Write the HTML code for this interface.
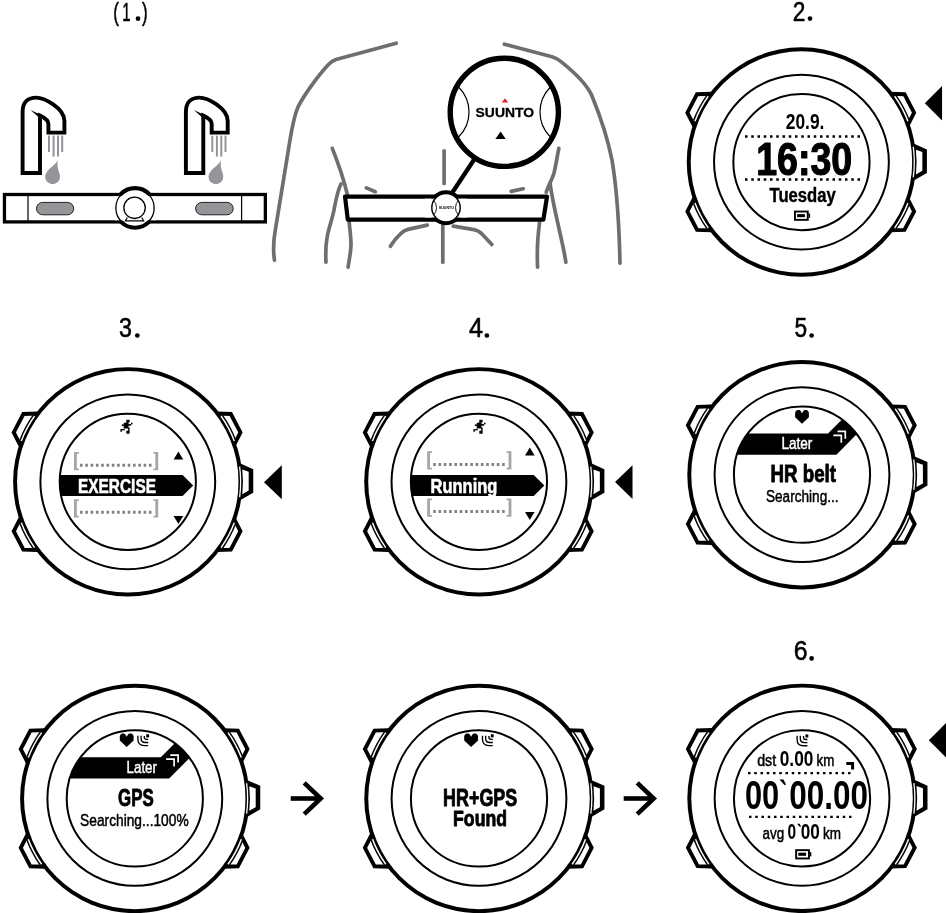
<!DOCTYPE html>
<html><head><meta charset="utf-8"><title>HR belt and GPS</title>
<style>html,body{margin:0;padding:0;background:#fff;overflow:hidden}svg{display:block;will-change:transform}text{font-family:"Liberation Sans",sans-serif}</style></head>
<body>
<svg width="946" height="913" viewBox="0 0 946 913">
<rect width="946" height="913" fill="#fff"/>
<defs>
<g id="case">
<g transform="translate(-0.7,0)">
<polygon points="-89.50,-68.30 -103.70,-67.85 -113.35,-49.40 -107.00,-37.00" fill="#fff" stroke="#000" stroke-width="3.9" stroke-linejoin="miter"/>
<polygon points="89.50,-68.30 103.70,-67.85 113.35,-49.40 107.00,-37.00" fill="#fff" stroke="#000" stroke-width="3.9" stroke-linejoin="miter"/>
<polygon points="-89.50,68.30 -103.70,67.85 -113.35,49.40 -107.00,37.00" fill="#fff" stroke="#000" stroke-width="3.9" stroke-linejoin="miter"/>
<polygon points="89.50,68.30 103.70,67.85 113.35,49.40 107.00,37.00" fill="#fff" stroke="#000" stroke-width="3.9" stroke-linejoin="miter"/>
</g>
<circle cx="0" cy="0" r="114.7" fill="#000"/>
<circle cx="0" cy="0" r="110.75" fill="#fff"/>
<path d="M106.52,-40.89 A114.1,114.1 0 0 0 93.24,-65.77" fill="none" stroke="#fff" stroke-width="1.5"/>
<path d="M107.92,-41.43 A115.6,115.6 0 0 0 94.46,-66.64" fill="none" stroke="#000" stroke-width="1.4"/>
<path d="M106.52,40.89 A114.1,114.1 0 0 1 93.24,65.77" fill="none" stroke="#fff" stroke-width="1.5"/>
<path d="M107.92,41.43 A115.6,115.6 0 0 1 94.46,66.64" fill="none" stroke="#000" stroke-width="1.4"/>
<path d="M-106.52,-40.89 A114.1,114.1 0 0 1 -93.24,-65.77" fill="none" stroke="#fff" stroke-width="1.5"/>
<path d="M-107.92,-41.43 A115.6,115.6 0 0 1 -94.46,-66.64" fill="none" stroke="#000" stroke-width="1.4"/>
<path d="M-106.52,40.89 A114.1,114.1 0 0 0 -93.24,65.77" fill="none" stroke="#fff" stroke-width="1.5"/>
<path d="M-107.92,41.43 A115.6,115.6 0 0 0 -94.46,66.64" fill="none" stroke="#000" stroke-width="1.4"/>
<polygon points="111,-19.0 125.45,-12.6 125.45,10.9 111,19.2" fill="#000"/>
<path d="M114.49,-12.3 L120.90,-10.0 L120.90,8.7 L114.49,12.35 A115.15,115.15 0 0 0 114.49,-12.3 Z" fill="#fff"/>
<path d="M111.82,-15.2 A112.85,112.85 0 0 1 111.82,15.2" fill="none" stroke="#fff" stroke-width="1.3"/>
<circle r="87.4" fill="none" stroke="#000" stroke-width="2"/>
<circle r="68.1" fill="#fff" stroke="#000" stroke-width="2"/>
</g>
<path id="heart" d="M0,2.8 L0.8,1.2 L2.2,0.2 L4.4,0.2 L5.6,1.2 L6.9,3.6 L8.2,1.2 L9.4,0.2 L11.6,0.2 L13,1.2 L13.8,2.8 L13.8,7.4 L6.9,13.9 L0,7.4 Z" fill="#000"/>
<g id="gps" fill="none" stroke="#000" stroke-width="1.35"><rect x="9" y="0" width="2.9" height="3.1" fill="#000" stroke="none"/><path d="M0.7,1.4 V5 Q0.7,11.3 7,11.3 H11"/><path d="M3.9,1.4 V4.2 Q3.9,8.2 8,8.2 H11"/><path d="M7.1,1.6 V3 Q7.1,5.1 9.2,5.1 H11"/></g>
<g id="batt"><rect x="0.95" y="0.95" width="12.8" height="8.3" fill="#fff" stroke="#000" stroke-width="1.9"/><rect x="3.1" y="3.5" width="7.8" height="3.1" fill="#000"/><rect x="14.6" y="2.9" width="1.5" height="4.3" fill="#000"/></g>
<g id="runner" fill="#000"><rect x="6.3" y="0" width="3.3" height="2.6"/><rect x="3.7" y="3.1" width="4.8" height="5.6"/><rect x="5.6" y="2.4" width="2.9" height="1.2"/><rect x="1.85" y="4.6" width="2" height="1.6"/><rect x="8.1" y="4.25" width="3" height="1.65"/><rect x="11" y="3" width="1.6" height="1.5"/><rect x="0.4" y="9.25" width="4.4" height="1.3"/><rect x="0.4" y="10.4" width="1.5" height="1.6"/><rect x="8.1" y="7.6" width="1.5" height="3.4"/><rect x="6.3" y="10.9" width="3.3" height="3"/></g>
</defs>
<text transform="translate(113.30,20.50) scale(0.6421,1)" font-size="26.5" font-weight="normal" fill="#000" stroke="#000" stroke-width="0.55" stroke-linejoin="round">(</text>
<text transform="translate(141.90,20.50) scale(0.6421,1)" font-size="26.5" font-weight="normal" fill="#000" stroke="#000" stroke-width="0.55" stroke-linejoin="round">)</text>
<text transform="translate(122.30,20.50) scale(0.5643,1)" font-size="26.5" font-weight="normal" fill="#000" stroke="#000" stroke-width="0.55" stroke-linejoin="round">1</text>
<circle cx="138.0" cy="18.7" r="2.35" fill="#000"/>
<text transform="translate(792.80,20.70) scale(0.8316,1)" font-size="27.3" font-weight="normal" fill="#000" stroke="#000" stroke-width="0.55" stroke-linejoin="round">2</text>
<circle cx="810.0" cy="18.6" r="2.35" fill="#000"/>
<text transform="translate(119.00,337.40) scale(0.8514,1)" font-size="27.3" font-weight="normal" fill="#000" stroke="#000" stroke-width="0.55" stroke-linejoin="round">3</text>
<circle cx="137.3" cy="335.5" r="2.35" fill="#000"/>
<text transform="translate(469.00,337.20) scale(0.9240,1)" font-size="27.3" font-weight="normal" fill="#000" stroke="#000" stroke-width="0.55" stroke-linejoin="round">4</text>
<circle cx="486.9" cy="335.5" r="2.35" fill="#000"/>
<text transform="translate(794.50,337.40) scale(0.8316,1)" font-size="27.3" font-weight="normal" fill="#000" stroke="#000" stroke-width="0.55" stroke-linejoin="round">5</text>
<circle cx="811.6" cy="335.5" r="2.35" fill="#000"/>
<text transform="translate(793.80,660.40) scale(0.9108,1)" font-size="27.3" font-weight="normal" fill="#000" stroke="#000" stroke-width="0.55" stroke-linejoin="round">6</text>
<circle cx="811.6" cy="658.4" r="2.35" fill="#000"/>
<g transform="translate(0,0)"><path d="M22.6,173 V112 C22.6,101 29,97.6 36,97.6 C44,97.6 64.4,108 64.4,121 V132.6 H48.4 V124 C48.4,121 44,117.5 40,115.6 V173 Z" fill="#fff" stroke="#000" stroke-width="3.9" stroke-linejoin="miter"/><path d="M30.6,110 L40.5,114.8 L39,117.6 Z" fill="#000"/><line x1="49" y1="135.6" x2="49" y2="152" stroke="#939598" stroke-width="2"/><line x1="53.6" y1="135.6" x2="53.6" y2="156.6" stroke="#939598" stroke-width="2"/><line x1="58" y1="135.6" x2="58" y2="156.6" stroke="#939598" stroke-width="2"/><line x1="62.2" y1="135.6" x2="62.2" y2="152" stroke="#939598" stroke-width="2"/><path d="M58,160 C55,166 45.2,170 45.2,176.8 A7.4,7.4 0 0 0 60,176.8 C60,172 56,168 58,160 Z" fill="#939598"/></g>
<g transform="translate(163.3,0)"><path d="M22.6,173 V112 C22.6,101 29,97.6 36,97.6 C44,97.6 64.4,108 64.4,121 V132.6 H48.4 V124 C48.4,121 44,117.5 40,115.6 V173 Z" fill="#fff" stroke="#000" stroke-width="3.9" stroke-linejoin="miter"/><path d="M30.6,110 L40.5,114.8 L39,117.6 Z" fill="#000"/><line x1="49" y1="135.6" x2="49" y2="152" stroke="#939598" stroke-width="2"/><line x1="53.6" y1="135.6" x2="53.6" y2="156.6" stroke="#939598" stroke-width="2"/><line x1="58" y1="135.6" x2="58" y2="156.6" stroke="#939598" stroke-width="2"/><line x1="62.2" y1="135.6" x2="62.2" y2="152" stroke="#939598" stroke-width="2"/><path d="M58,160 C55,166 45.2,170 45.2,176.8 A7.4,7.4 0 0 0 60,176.8 C60,172 56,168 58,160 Z" fill="#939598"/></g>
<rect x="4.45" y="194.5" width="260.9" height="27.4" fill="#fff" stroke="#000" stroke-width="3.3"/>
<line x1="28" y1="195" x2="28" y2="222" stroke="#000" stroke-width="1.2"/>
<line x1="241.6" y1="195" x2="241.6" y2="222" stroke="#000" stroke-width="1.2"/>
<rect x="36.5" y="202.4" width="37.2" height="12.4" rx="6.2" fill="#939598" stroke="#231f20" stroke-width="1"/>
<rect x="195.6" y="202.4" width="37.6" height="12.4" rx="6.2" fill="#939598" stroke="#231f20" stroke-width="1"/>
<circle cx="135" cy="207.9" r="19.8" fill="#fff" stroke="#000" stroke-width="4.1"/>
<clipPath id="cpm"><circle cx="135" cy="207.9" r="24"/></clipPath>
<rect x="110" y="196.1" width="50" height="24.2" fill="#fff" clip-path="url(#cpm)"/>
<circle cx="135" cy="207.9" r="19.15" fill="none" stroke="#000" stroke-width="1.3"/>
<path d="M127.3,217.6 L125.3,220.9 H143.7 L141.7,217.6" fill="#fff" stroke="#000" stroke-width="1.1"/>
<circle cx="134.55" cy="207.8" r="10.7" fill="#fff" stroke="#000" stroke-width="1.3"/>
<g fill="none" stroke="#6d6e71" stroke-width="3.7" stroke-linecap="round" stroke-linejoin="round">
<path d="M396.23,43.21 L336.00,59.50 Q331.50,61.00 328.00,65.00 C316.00,78.00 303.00,97.00 298.00,107.00 C294.00,116.00 292.00,128.00 290.00,140.00 L275.00,232.00 Q272.50,247.00 274.48,260.21"/>
<path d="M504.37,44.20 L552.00,56.80 Q557.00,58.40 561.00,61.60 C574.00,72.00 587.00,84.00 592.00,96.00 C601.00,118.00 608.00,140.00 612.00,160.00 C616.00,184.00 619.00,215.00 619.98,263.20"/>
<path d="M332.30,148.34 C337.00,160.00 343.00,176.00 347.81,196.22"/>
<path d="M349.09,221.80 C350.00,230.00 351.00,238.00 351.00,244.00 C351.00,252.00 349.00,260.00 348.10,267.21"/>
<path d="M341.00,184.00 C337.00,192.00 336.00,200.00 334.00,210.00 C332.00,220.00 328.00,230.00 327.00,238.00 C325.60,246.00 325.60,255.00 325.96,262.20"/>
<path d="M558.83,148.38 C557.00,157.00 556.00,165.00 554.00,173.00 C552.00,180.00 548.00,186.00 546.22,192.23"/>
<path d="M539.50,222.79 C538.40,232.00 537.40,242.00 537.40,250.00 C537.20,258.00 537.40,262.00 537.57,267.20"/>
<path d="M550.00,183.00 C552.00,198.00 555.00,211.00 558.00,224.00 C561.00,238.00 564.00,250.00 565.88,262.21"/>
<path d="M366.34,187.91 L375.26,191.69"/>
<path d="M511.18,191.43 L523.22,188.77"/>
<path d="M444.10,150.80 L444.10,183.40"/>
<path d="M442.80,224.80 L442.80,262.20"/>
<path d="M427.22,225.17 L408.00,229.40 Q404.00,230.40 401.00,233.40 C397.00,237.00 393.00,242.00 390.41,246.31"/>
<path d="M453.19,226.13 L474.00,229.60 Q478.00,230.40 481.00,233.00 L491.85,244.42"/>
</g>
<polygon points="345,196.6 547,196.6 543.4,219.6 347.8,219.6" fill="#fff" stroke="#000" stroke-width="4.2" stroke-linejoin="round"/>
<line x1="452" y1="193" x2="474.5" y2="159" stroke="#000" stroke-width="4.3"/>
<circle cx="446" cy="207.7" r="15.5" fill="#fff" stroke="#000" stroke-width="4"/>
<rect x="425" y="198.7" width="42" height="18.8" fill="#fff"/>
<circle cx="446" cy="207.7" r="14.2" fill="#fff" stroke="#000" stroke-width="1.45"/>
<clipPath id="cps"><circle cx="446" cy="207.7" r="14.2"/></clipPath>
<g clip-path="url(#cps)" fill="none" stroke="#000" stroke-width="0.9"><circle cx="426" cy="207.7" r="10.5"/><circle cx="466" cy="207.7" r="10.5"/></g>
<text transform="translate(438.80,208.80) scale(1.0632,1)" font-size="3.4" font-weight="bold" fill="#000">SUUNTO</text>
<circle cx="504.3" cy="112.3" r="54.1" fill="#fff" stroke="#000" stroke-width="5.4"/>
<clipPath id="cpb"><circle cx="504.3" cy="112.3" r="54"/></clipPath>
<g clip-path="url(#cpb)" fill="none" stroke="#000" stroke-width="1.2"><circle cx="434" cy="112" r="35"/><circle cx="575" cy="112" r="35"/></g>
<text transform="translate(475.60,117.00) scale(1.0602,1)" font-size="13.1" font-weight="bold" fill="#000" stroke="#000" stroke-width="0.3" stroke-linejoin="round">SUUNTO</text>
<polygon points="505,98.2 508.2,102.6 501.8,102.6" fill="#ed1c24"/>
<polygon points="500.6,131.4 505.8,139 495.4,139" fill="#000"/>
<use href="#case" x="801.45" y="162.05"/>
<polygon points="924.85,103.15 942.0500000000001,85.9 942.0500000000001,120.4" fill="#000"/>
<text transform="translate(785.80,128.80) scale(0.8107,1)" font-size="21.4" font-weight="bold" fill="#000">20.9.</text>
<line x1="745" y1="136.5" x2="861" y2="136.5" stroke="#000" stroke-width="2.4" stroke-dasharray="2.5 3.75"/>
<text transform="translate(756.20,175.20) scale(0.8161,1)" font-size="46" font-weight="bold" fill="#000" stroke="#000" stroke-width="1.2" stroke-linejoin="round">16:30</text>
<line x1="745" y1="179.5" x2="861" y2="179.5" stroke="#000" stroke-width="2.4" stroke-dasharray="2.5 3.75"/>
<text transform="translate(769.50,202.00) scale(0.8532,1)" font-size="19.5" font-weight="bold" fill="#000" stroke="#000" stroke-width="0.4" stroke-linejoin="round">Tuesday</text>
<use href="#batt" x="794.0" y="210.6"/>
<use href="#case" x="127.8" y="481.85"/>
<clipPath id="c127"><circle cx="127.8" cy="481.85" r="68.1"/></clipPath>
<polygon clip-path="url(#c127)" points="57.8,475.05 182.6,475.05 193.2,485.55 182.6,496.05 57.8,496.05" fill="#000"/>
<text transform="translate(77.90,492.90) scale(0.7357,1)" font-size="21.0" font-weight="bold" fill="#fff" stroke="#fff" stroke-width="0.6" stroke-linejoin="round">EXERCISE</text>
<path d="M74.0,452.1 H78.8 V453.8 H76.8 V468.6 H78.8 V470.3 H74.0 Z" fill="#a3a5a8"/>
<path d="M158.2,452.1 H153.39999999999998 V453.8 H155.39999999999998 V468.6 H153.39999999999998 V470.3 H158.2 Z" fill="#a3a5a8"/>
<line x1="80.0" y1="465.3" x2="152.79999999999998" y2="465.3" stroke="#808285" stroke-width="3" stroke-dasharray="2.6 2.6999999999999997"/>
<path d="M74.0,499.3 H78.8 V501.0 H76.8 V515.8 H78.8 V517.5 H74.0 Z" fill="#a3a5a8"/>
<path d="M158.2,499.3 H153.39999999999998 V501.0 H155.39999999999998 V515.8 H153.39999999999998 V517.5 H158.2 Z" fill="#a3a5a8"/>
<line x1="80.0" y1="512.2" x2="152.79999999999998" y2="512.2" stroke="#808285" stroke-width="3" stroke-dasharray="2.6 2.6999999999999997"/>
<polygon points="173.6,459.6 178.4,451.6 183.2,459.6" fill="#000"/>
<polygon points="173.6,516 183.2,516 178.4,524" fill="#000"/>
<use href="#runner" x="120" y="419.8"/>
<polygon points="264.0,482.15 281.8,465.15 281.8,499.15" fill="#000"/>
<use href="#case" x="478.95" y="481.85"/>
<clipPath id="c478"><circle cx="478.95" cy="481.85" r="68.1"/></clipPath>
<polygon clip-path="url(#c478)" points="408.95,475.05 533.75,475.05 544.35,485.55 533.75,496.05 408.95,496.05" fill="#000"/>
<text transform="translate(430.60,492.50) scale(0.8320,1)" font-size="19.8" font-weight="bold" fill="#fff" stroke="#fff" stroke-width="0.6" stroke-linejoin="round">Running</text>
<path d="M427.2,451.3 H432.0 V453.0 H430.0 V467.8 H432.0 V469.5 H427.2 Z" fill="#a3a5a8"/>
<path d="M511.4,451.3 H506.59999999999997 V453.0 H508.59999999999997 V467.8 H506.59999999999997 V469.5 H511.4 Z" fill="#a3a5a8"/>
<line x1="433.2" y1="464.4" x2="506.0" y2="464.4" stroke="#808285" stroke-width="3" stroke-dasharray="2.6 2.6999999999999997"/>
<path d="M427.2,498.6 H432.0 V500.3 H430.0 V515.1 H432.0 V516.8000000000001 H427.2 Z" fill="#a3a5a8"/>
<path d="M511.4,498.6 H506.59999999999997 V500.3 H508.59999999999997 V515.1 H506.59999999999997 V516.8000000000001 H511.4 Z" fill="#a3a5a8"/>
<line x1="433.2" y1="511.4" x2="506.0" y2="511.4" stroke="#808285" stroke-width="3" stroke-dasharray="2.6 2.6999999999999997"/>
<polygon points="525,455.6 529.8,447.6 534.6,455.6" fill="#000"/>
<polygon points="525,512 534.6,512 529.8,520" fill="#000"/>
<use href="#runner" x="473" y="419.8"/>
<polygon points="615.05,482.1 632.5,465.20000000000005 632.5,499.0" fill="#000"/>
<use href="#case" x="802" y="474.7"/>
<clipPath id="d802474"><circle cx="802" cy="474.7" r="68.1"/></clipPath>
<polygon clip-path="url(#d802474)" points="727.0,433.5 828.0,433.5 858.0,403.5 882.0,403.5 882.0,408.7 836.4,454.7 727.0,454.7" fill="#000"/>
<text transform="translate(781.40,449.40) scale(0.8393,1)" font-size="16.2" font-weight="normal" fill="#fff" stroke="#fff" stroke-width="0.45" stroke-linejoin="round">Later</text>
<path d="M837.5,431.3 H845.3 V438.7" fill="none" stroke="#fff" stroke-width="1.7"/>
<path d="M833.3,435.3 H841.3 V442.7" fill="none" stroke="#fff" stroke-width="1.7"/>
<use href="#heart" x="795.1" y="409.9"/>
<text transform="translate(770.60,482.10) scale(0.8054,1)" font-size="23.2" font-weight="bold" fill="#000" stroke="#000" stroke-width="0.9" stroke-linejoin="round">HR belt</text>
<text transform="translate(766.00,502.40) scale(0.8198,1)" font-size="16.6" font-weight="normal" fill="#000" stroke="#000" stroke-width="0.5" stroke-linejoin="round">Searching...</text>
<use href="#case" x="134.8" y="798.45"/>
<clipPath id="d134798"><circle cx="134.8" cy="798.45" r="68.1"/></clipPath>
<polygon clip-path="url(#d134798)" points="59.8,757.2 160.8,757.2 190.8,727.2 214.8,727.2 214.8,732.5 169.2,778.5 59.8,778.5" fill="#000"/>
<text transform="translate(126.60,773.15) scale(0.8230,1)" font-size="16.2" font-weight="normal" fill="#fff" stroke="#fff" stroke-width="0.45" stroke-linejoin="round">Later</text>
<path d="M170.3,755.0500000000001 H178.10000000000002 V762.45" fill="none" stroke="#fff" stroke-width="1.7"/>
<path d="M166.10000000000002,759.0500000000001 H174.10000000000002 V766.45" fill="none" stroke="#fff" stroke-width="1.7"/>
<use href="#heart" x="119.8" y="733.2"/>
<use href="#gps" x="137.2" y="734.3"/>
<text transform="translate(118.10,805.60) scale(0.6859,1)" font-size="24.6" font-weight="bold" fill="#000" stroke="#000" stroke-width="0.9" stroke-linejoin="round">GPS</text>
<text transform="translate(80.10,825.60) scale(0.8286,1)" font-size="16.6" font-weight="normal" fill="#000" stroke="#000" stroke-width="0.5" stroke-linejoin="round">Searching...100%</text>
<use href="#case" x="479.0" y="798.45"/>
<use href="#heart" x="464.2" y="733.2"/>
<use href="#gps" x="481.8" y="734.3"/>
<text transform="translate(443.10,805.60) scale(0.7345,1)" font-size="24.4" font-weight="bold" fill="#000" stroke="#000" stroke-width="0.9" stroke-linejoin="round">HR+GPS</text>
<text transform="translate(453.10,826.20) scale(0.7876,1)" font-size="22.4" font-weight="bold" fill="#000" stroke="#000" stroke-width="0.9" stroke-linejoin="round">Found</text>
<use href="#case" x="802.05" y="798.35"/>
<use href="#gps" x="796.4" y="734.4"/>
<text transform="translate(757.20,765.70) scale(0.8895,1)" font-size="16" font-weight="normal" fill="#000" stroke="#000" stroke-width="0.5" stroke-linejoin="round">dst</text>
<text transform="translate(779.70,765.90) scale(0.8022,1)" font-size="21.6" font-weight="bold" fill="#000">0.00</text>
<text transform="translate(816.50,765.70) scale(0.8333,1)" font-size="16" font-weight="normal" fill="#000" stroke="#000" stroke-width="0.5" stroke-linejoin="round">km</text>
<path d="M846.3,763.5 H852.6 V769.6" fill="none" stroke="#000" stroke-width="3"/>
<line x1="748" y1="773.2" x2="851" y2="773.2" stroke="#000" stroke-width="2.3" stroke-dasharray="2.5 3.75"/>
<line x1="749" y1="816.8" x2="852" y2="816.8" stroke="#000" stroke-width="2.3" stroke-dasharray="2.5 3.75"/>
<text transform="translate(745.00,808.80) scale(0.7589,1)" font-size="40.6" font-weight="bold" fill="#000">00</text>
<polygon points="779.4,779.5 783.4,779.5 786.0,784.3 784.7,785.3" fill="#000"/>
<text transform="translate(789.20,808.80) scale(0.7748,1)" font-size="40.6" font-weight="bold" fill="#000">00.00</text>
<text transform="translate(762.50,839.10) scale(0.8385,1)" font-size="16" font-weight="normal" fill="#000" stroke="#000" stroke-width="0.5" stroke-linejoin="round">avg</text>
<text transform="translate(787.60,839.30) scale(0.6980,1)" font-size="22.2" font-weight="bold" fill="#000">0</text>
<polygon points="797.0,823.7 799.6,823.7 801.0,826.2 800.0,826.9" fill="#000"/>
<text transform="translate(800.70,839.30) scale(0.7751,1)" font-size="22.2" font-weight="bold" fill="#000">00</text>
<text transform="translate(823.10,839.10) scale(0.8427,1)" font-size="16" font-weight="normal" fill="#000" stroke="#000" stroke-width="0.5" stroke-linejoin="round">km</text>
<use href="#batt" x="795.2" y="849.2"/>
<polygon points="928.85,740.35 946.85,722.25 946.85,758.45" fill="#000"/>
<g transform="translate(0,0)" fill="none" stroke="#000" stroke-width="4.6"><line x1="290.7" y1="798.5" x2="321" y2="798.5"/><polyline points="304.2,782.9 320.7,798.5 304.2,814.1" stroke-linejoin="miter"/></g>
<g transform="translate(333,0)" fill="none" stroke="#000" stroke-width="4.6"><line x1="290.7" y1="798.5" x2="321" y2="798.5"/><polyline points="304.2,782.9 320.7,798.5 304.2,814.1" stroke-linejoin="miter"/></g>
</svg>
</body></html>
